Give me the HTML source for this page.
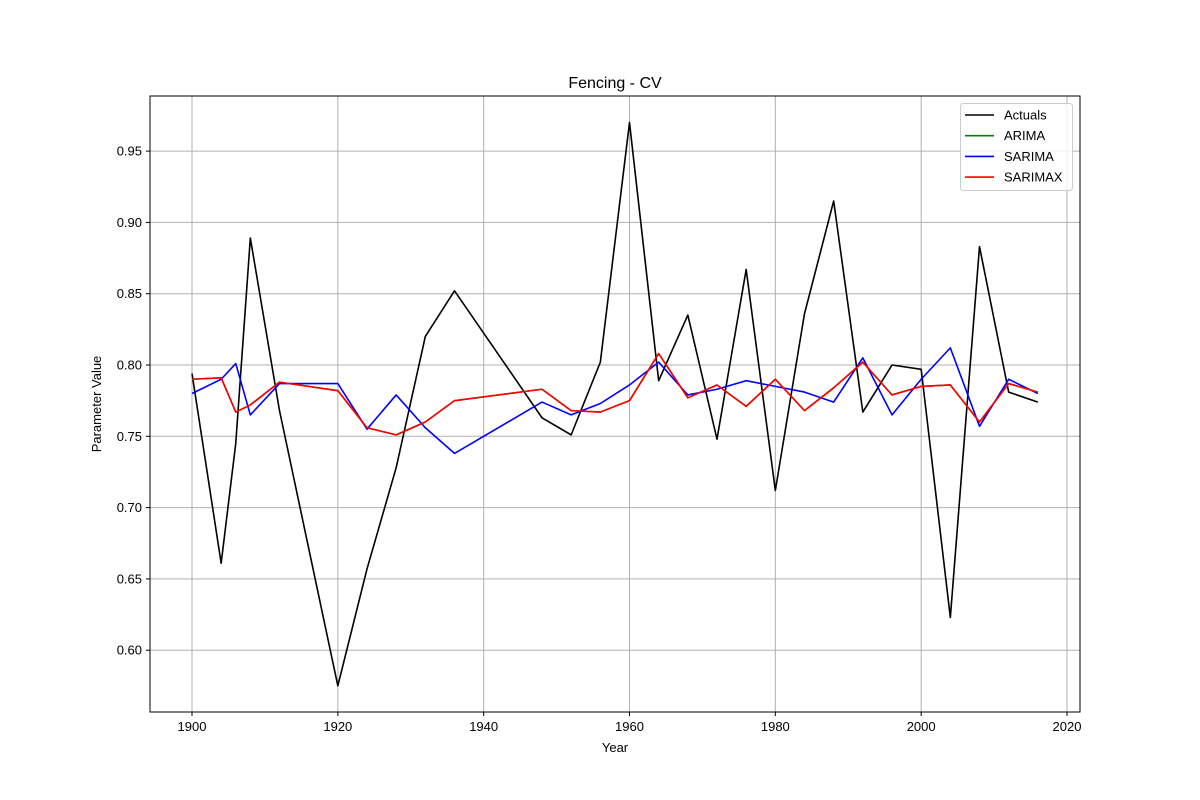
<!DOCTYPE html>
<html><head><meta charset="utf-8"><style>
body{margin:0;background:#fff;}
svg{display:block;font-family:"Liberation Sans","DejaVu Sans",sans-serif;}
</style></head><body>
<svg id="chart" width="1200" height="800" xmlns="http://www.w3.org/2000/svg"></svg>
<script>
const years=[1900,1904,1906,1908,1912,1920,1924,1928,1932,1936,1948,1952,1956,1960,1964,1968,1972,1976,1980,1984,1988,1992,1996,2000,2004,2008,2012,2016];
const actuals=[0.794,0.661,0.745,0.889,0.768,0.575,0.657,0.728,0.820,0.852,0.763,0.751,0.802,0.970,0.789,0.835,0.748,0.867,0.712,0.836,0.915,0.767,0.800,0.797,0.623,0.883,0.781,0.774];
const sarima=[0.780,0.790,0.801,0.765,0.787,0.787,0.755,0.779,0.756,0.738,0.774,0.765,0.773,0.786,0.802,0.779,0.783,0.789,0.785,0.781,0.774,0.805,0.765,0.790,0.812,0.757,0.790,0.780];
const sarimax=[0.790,0.791,0.767,0.772,0.788,0.782,0.756,0.751,0.760,0.775,0.783,0.768,0.767,0.775,0.808,0.777,0.786,0.771,0.790,0.768,0.784,0.802,0.779,0.785,0.786,0.760,0.787,0.781];
const arima=sarimax.slice();
const xTicks=[1900,1920,1940,1960,1980,2000,2020];
const yTicks=[0.60,0.65,0.70,0.75,0.80,0.85,0.90,0.95];

const NS="http://www.w3.org/2000/svg";
const svg=document.getElementById('chart');
const L=150,R=1080,T=96,B=712;
function xs(v){return 192+(v-1900)*(1067-192)/120;}
function ys(v){return 365-(v-0.80)*1426;}
function el(tag,attrs,parent){const e=document.createElementNS(NS,tag);for(const k in attrs)e.setAttribute(k,attrs[k]);(parent||svg).appendChild(e);return e;}

const grid=el('g',{});


xTicks.forEach(t=>{const x=xs(t);
 if(x>L&&x<R){const g=el('line',{x1:x,x2:x,y1:T,y2:B,stroke:'#b0b0b0','stroke-width':1},grid);}
 const tk=el('line',{x1:x,x2:x,y1:B,y2:B+4,stroke:'#000'});
 const tx=el('text',{x:x,y:B+19,'font-size':13,'text-anchor':'middle',fill:'#000'});tx.textContent=t;
 
});
yTicks.forEach(t=>{const y=ys(t);
 const g=el('line',{x1:L,x2:R,y1:y,y2:y,stroke:'#b0b0b0','stroke-width':1},grid);
 const tk=el('line',{x1:L-4,x2:L,y1:y,y2:y,stroke:'#000'});
 const tx=el('text',{x:L-8,y:y+4.5,'font-size':13,'text-anchor':'end',fill:'#000'});tx.textContent=t.toFixed(2);
 
});
function line(vals,color,name){
 const p=el('polyline',{points:years.map((y,i)=>xs(y)+','+ys(vals[i])).join(' '),fill:'none',stroke:color,'stroke-width':1.6,'stroke-linejoin':'round'});
 
 
}
line(actuals,'#000','actuals-line');
line(arima,'#008000','arima-line');
line(sarima,'#0000ff','sarima-line');
line(sarimax,'#ff0000','sarimax-line');

const frame=el('rect',{x:L,y:T,width:R-L,height:B-T,fill:'none',stroke:'#000','stroke-width':1});

const title=el('text',{x:615,y:88,'font-size':16,'text-anchor':'middle'});title.textContent='Fencing - CV';

const xl=el('text',{x:615,y:752,'font-size':13,'text-anchor':'middle'});xl.textContent='Year';

const yl=el('text',{x:0,y:0,'font-size':13,'text-anchor':'middle',transform:'translate(101,404) rotate(-90)'});yl.textContent='Parameter Value';


const leg=el('g',{});

const lb=el('rect',{x:960.5,y:103.5,width:112,height:87,rx:3,fill:'#fff','fill-opacity':0.8,stroke:'#cccccc'},leg);

const legNames=['Actuals','ARIMA','SARIMA','SARIMAX'];
const legColors=['#000','#008000','#0000ff','#ff0000'];
legNames.forEach((n,i)=>{const y=115+i*20.7;
 const s=el('line',{x1:965,x2:994,y1:y,y2:y,stroke:legColors[i],'stroke-width':1.6},leg);
 
 const t=el('text',{x:1004,y:y+4.5,'font-size':13},leg);t.textContent=n;
 
});
</script>
</body></html>
